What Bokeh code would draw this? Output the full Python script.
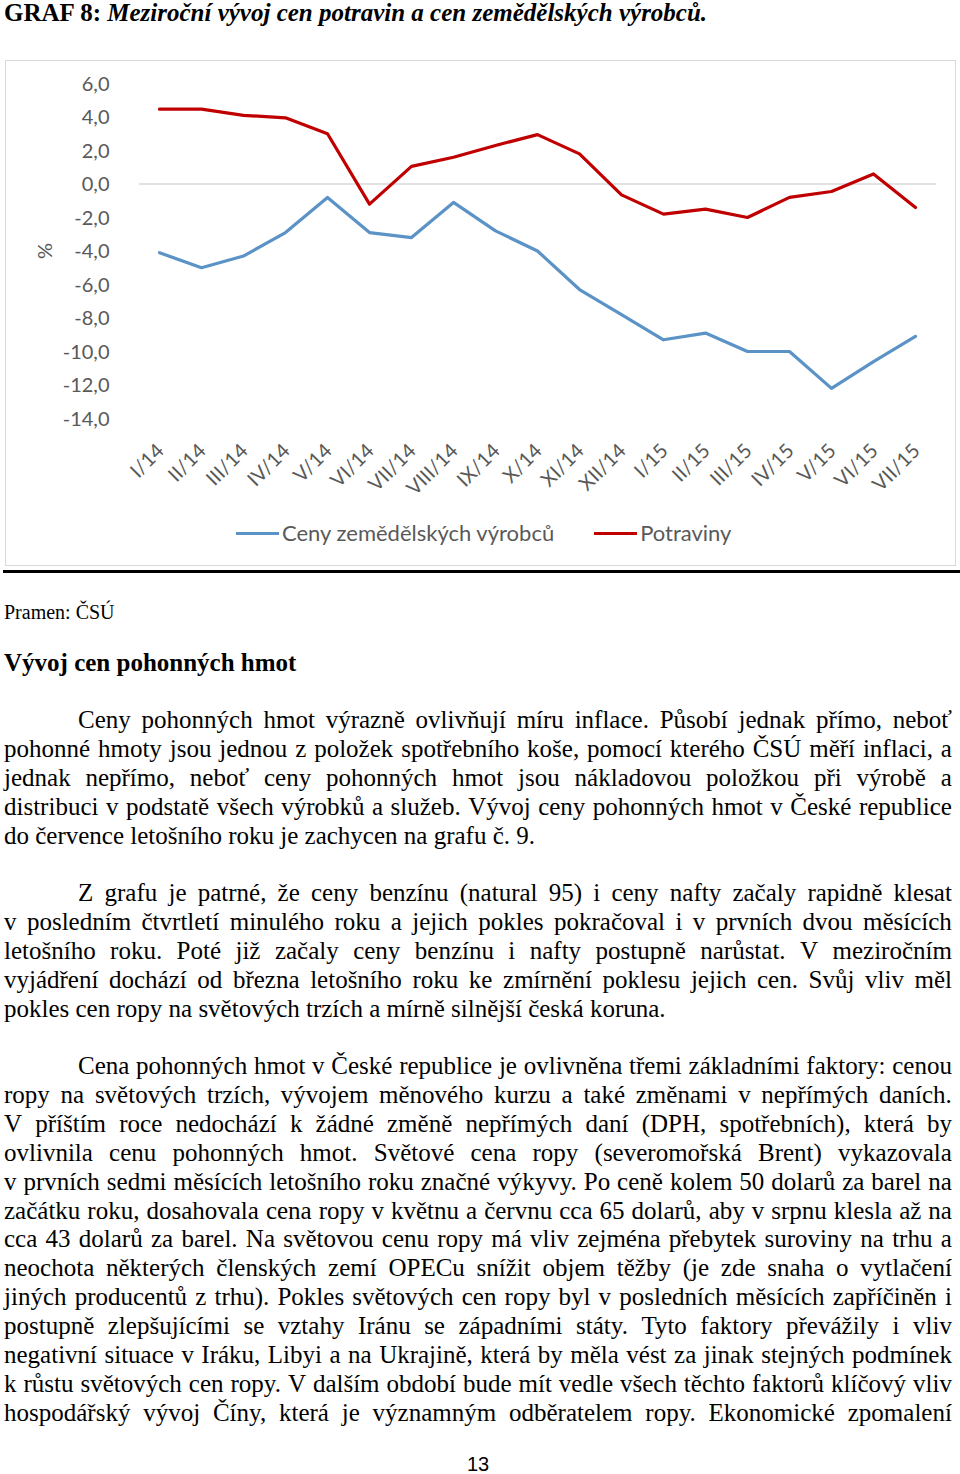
import math
from bokeh.plotting import figure
from bokeh.models import (ColumnDataSource, FactorRange, Range1d, FixedTicker, Span,
                          Legend, LegendItem, Div)
from bokeh.layouts import column
from bokeh.embed import file_html
from bokeh.resources import INLINE

# ---------------- data ----------------
categories = ["I/14", "II/14", "III/14", "IV/14", "V/14", "VI/14", "VII/14", "VIII/14",
              "IX/14", "X/14", "XI/14", "XII/14", "I/15", "II/15", "III/15", "IV/15",
              "V/15", "VI/15", "VII/15"]
agri_prices = [-4.1, -5.0, -4.3, -2.9, -0.8, -2.9, -3.2, -1.1, -2.8, -4.0, -6.3, -7.8,
               -9.3, -8.9, -10.0, -10.0, -12.2, -10.6, -9.1]
food_prices = [4.47, 4.47, 4.1, 3.95, 3.0, -1.2, 1.05, 1.6, 2.3, 2.95, 1.8, -0.65,
               -1.8, -1.5, -2.0, -0.8, -0.45, 0.6, -1.4]
series_names = ["Ceny zemědělských výrobců", "Potraviny"]
y_ticks = [-14, -12, -10, -8, -6, -4, -2, 0, 2, 4, 6]
y_tick_labels = ["-14,0", "-12,0", "-10,0", "-8,0", "-6,0", "-4,0", "-2,0", "0,0",
                 "2,0", "4,0", "6,0"]
y_axis_title = "%"

title_bold = "GRAF 8:"
title_italic = "Meziroční vývoj cen potravin a cen zemědělských výrobců."
source_note = "Pramen: ČSÚ"
heading = "Vývoj cen pohonných hmot"
paragraph1 = [
    "Ceny pohonných hmot výrazně ovlivňují míru inflace. Působí jednak přímo, neboť",
    "pohonné hmoty jsou jednou z položek spotřebního koše, pomocí kterého ČSÚ měří inflaci, a",
    "jednak nepřímo, neboť ceny pohonných hmot jsou nákladovou položkou při výrobě a",
    "distribuci v podstatě všech výrobků a služeb. Vývoj ceny pohonných hmot v České republice",
    "do července letošního roku je zachycen na grafu č. 9.",
]
paragraph2 = [
    "Z grafu je patrné, že ceny benzínu (natural 95) i ceny nafty začaly rapidně klesat",
    "v posledním čtvrtletí minulého roku a jejich pokles pokračoval i v prvních dvou měsících",
    "letošního roku. Poté již začaly ceny benzínu i nafty postupně narůstat. V meziročním",
    "vyjádření dochází od března letošního roku ke zmírnění poklesu jejich cen. Svůj vliv měl",
    "pokles cen ropy na světových trzích a mírně silnější česká koruna.",
]
paragraph3 = [
    "Cena pohonných hmot v České republice je ovlivněna třemi základními faktory: cenou",
    "ropy na světových trzích, vývojem měnového kurzu a také změnami v nepřímých daních.",
    "V příštím roce nedochází k žádné změně nepřímých daní (DPH, spotřebních), která by",
    "ovlivnila cenu pohonných hmot. Světové cena ropy (severomořská Brent) vykazovala",
    "v prvních sedmi měsících letošního roku značné výkyvy. Po ceně kolem 50 dolarů za barel na",
    "začátku roku, dosahovala cena ropy v květnu a červnu cca 65 dolarů, aby v srpnu klesla až na",
    "cca 43 dolarů za barel. Na světovou cenu ropy má vliv zejména přebytek suroviny na trhu a",
    "neochota některých členských zemí OPECu snížit objem těžby (je zde snaha o vytlačení",
    "jiných producentů z trhu). Pokles světových cen ropy byl v posledních měsících zapříčiněn i",
    "postupně zlepšujícími se vztahy Iránu se západními státy. Tyto faktory převážily i vliv",
    "negativní situace v Iráku, Libyi a na Ukrajině, která by měla vést za jinak stejných podmínek",
    "k růstu světových cen ropy. V dalším období bude mít vedle všech těchto faktorů klíčový vliv",
    "hospodářský vývoj Číny, která je významným odběratelem ropy. Ekonomické zpomalení",
]
page_number = "13"

GRAY = "#595959"
BLUE = "#5b93c7"
RED = "#c00000"
FRAME = "#d9d9d9"
CHART_FONT = "Lato"

# ---------------- chart ----------------
src = ColumnDataSource(dict(cat=categories, agri=agri_prices, food=food_prices))

p = figure(x_range=FactorRange(factors=categories, range_padding=0),
           y_range=Range1d(-14, 6),
           width=951, height=452, output_backend="svg", toolbar_location=None,
           min_border_left=132, min_border_right=21, min_border_top=22,
           min_border_bottom=95)
p.styles = {"border": f"1px solid {FRAME}", "border-bottom": "none", "margin-left": "5px"}
p.outline_line_color = None
p.xgrid.grid_line_color = None
p.ygrid.grid_line_color = None
p.background_fill_color = "white"
p.border_fill_color = "white"

zero = Span(location=0, dimension="width", line_color=FRAME, line_width=1.5,
            level="underlay")
p.add_layout(zero)

line_kw = dict(line_width=3.2, line_join="round", line_cap="round")
p.line("cat", "agri", source=src, line_color=BLUE, **line_kw)
p.line("cat", "food", source=src, line_color=RED, **line_kw)

xa = p.xaxis[0]
xa.axis_line_color = None
xa.major_tick_line_color = None
xa.minor_tick_line_color = None
xa.major_label_orientation = math.pi / 4
xa.major_label_text_font = CHART_FONT
xa.major_label_text_font_size = "20px"
xa.major_label_text_color = GRAY
xa.major_label_standoff = 22

ya = p.yaxis[0]
ya.ticker = FixedTicker(ticks=y_ticks)
ya.major_label_overrides = dict(zip(y_ticks, y_tick_labels))
ya.axis_line_color = None
ya.major_tick_line_color = None
ya.minor_tick_line_color = None
ya.major_label_text_font = CHART_FONT
ya.major_label_text_font_size = "20px"
ya.major_label_text_color = GRAY
ya.major_label_standoff = 23
ya.axis_label = y_axis_title
ya.axis_label_text_font = CHART_FONT
ya.axis_label_text_font_size = "20px"
ya.axis_label_text_font_style = "normal"
ya.axis_label_text_color = GRAY
ya.axis_label_standoff = 4

# ---------------- legend strip (bottom part of the chart box) ----------------
q = figure(x_range=FactorRange(factors=categories, range_padding=0),
           y_range=Range1d(100, 101),   # series lie outside: only the legend shows
           width=951, height=54, output_backend="svg", toolbar_location=None,
           x_axis_type=None, y_axis_type=None,
           min_border_left=0, min_border_right=0, min_border_top=0, min_border_bottom=0)
q.styles = {"border": f"1px solid {FRAME}", "border-top": "none", "margin-left": "5px"}
q.outline_line_color = None
q.xgrid.grid_line_color = None
q.ygrid.grid_line_color = None
q.background_fill_color = "white"
q.border_fill_color = "white"
la = q.line("cat", "agri", source=src, line_color=BLUE, **line_kw)
lf = q.line("cat", "food", source=src, line_color=RED, **line_kw)

legend = Legend(items=[LegendItem(label=series_names[0], renderers=[la]),
                       LegendItem(label=series_names[1], renderers=[lf])],
                location=(98, 20), orientation="horizontal",
                glyph_width=43, glyph_height=20, label_standoff=3, spacing=40,
                padding=0, margin=0, border_line_color=None,
                background_fill_alpha=0,
                label_text_font=CHART_FONT, label_text_font_size="22px",
                label_text_color=GRAY)
q.add_layout(legend)

# ---------------- text parts ----------------
SERIF = "'Liberation Serif', 'Times New Roman', serif"


def justified_line(text, left, top, width):
    words = "".join(f"<span>{w}</span>" for w in text.split(" "))
    return (f'<div style="position:absolute;left:{left}px;top:{top}px;width:{width}px;'
            f'display:flex;justify-content:space-between;white-space:nowrap;'
            f'font-family:{SERIF};font-size:25px;line-height:29px;color:#000;">{words}</div>')


def plain_line(text, left, top, size=25, lh=29, weight="normal", family=SERIF):
    return (f'<div style="position:absolute;left:{left}px;top:{top}px;white-space:nowrap;'
            f'font-family:{family};font-size:{size}px;line-height:{lh}px;'
            f'font-weight:{weight};color:#000;">{text}</div>')


def paragraph_html(lines, top0, step, last_justified=False):
    out = []
    for i, ln in enumerate(lines):
        top = round(top0 + i * step, 1)
        left = 78 if i == 0 else 4
        width = 952 - left
        is_last = i == len(lines) - 1
        if is_last and not last_justified:
            out.append(plain_line(ln, left, top))
        else:
            out.append(justified_line(ln, left, top, width))
    return "".join(out)


title_html = (
    '<div style="position:relative;width:960px;height:60px;">'
    f'<div style="position:absolute;left:4px;top:0px;white-space:nowrap;font-family:{SERIF};'
    f'font-size:25px;line-height:25px;font-weight:bold;color:#000;">'
    f'{title_bold} <i>{title_italic}</i></div></div>'
)
div_top = Div(text=title_html, width=960, height=60, margin=0)

body = ['<div style="position:relative;width:960px;height:906px;">']
body.append('<div style="position:absolute;left:3px;top:4px;width:957px;height:3px;'
            'background:#000;"></div>')
body.append(plain_line(source_note, 4, 34, size=20, lh=24))
body.append(plain_line(heading, 4, 82, weight="bold"))
body.append(paragraph_html(paragraph1, 139, 29))
body.append(paragraph_html(paragraph2, 312, 29))
body.append(paragraph_html(paragraph3, 485, 28.9, last_justified=True))
body.append(f'<div style="position:absolute;left:0px;top:891px;width:956px;text-align:center;'
            f"font-family:'Liberation Sans', Arial, sans-serif;font-size:20px;line-height:14px;"
            f'color:#000;">{page_number}</div>')
body.append('</div>')
div_body = Div(text="".join(body), width=960, height=906, margin=0)

layout = column(div_top, p, q, div_body, spacing=0)

with open("out.html", "w") as f:
    f.write(file_html(layout, INLINE))
